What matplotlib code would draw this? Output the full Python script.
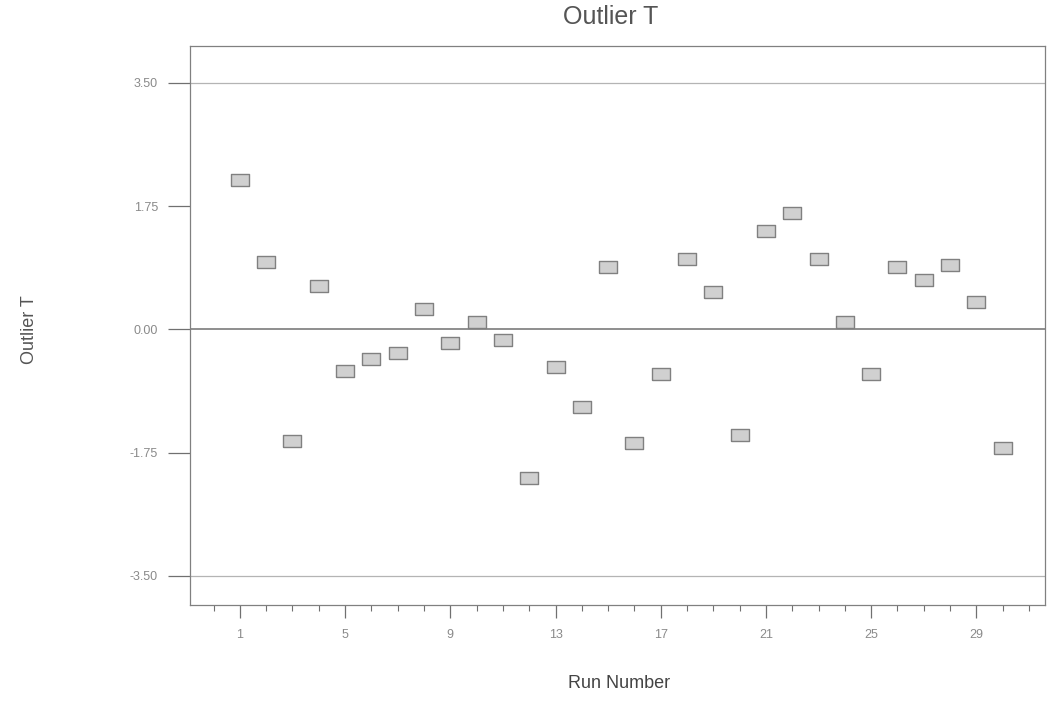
import numpy as np
import matplotlib.pyplot as plt
from matplotlib.ticker import MultipleLocator, FixedLocator

plt.rcParams['font.family'] = ['Liberation Sans', 'DejaVu Sans']

# run numbers and outlier t values
runs = np.arange(1, 31)
outlier_t = [2.12, 0.95, -1.58, 0.61, -0.59, -0.42, -0.34, 0.29, -0.20, 0.11,
             -0.15, -2.11, -0.54, -1.11, 0.89, -1.62, -0.63, 1.00, 0.53, -1.50,
             1.40, 1.65, 1.00, 0.10, -0.63, 0.88, 0.70, 0.92, 0.39, -1.69]
limit = 3.5
ytick_vals = [3.5, 1.75, 0.0, -1.75, -3.5]
xtick_vals = [1, 5, 9, 13, 17, 21, 25, 29]

fig = plt.figure(figsize=(10.49, 7.24), dpi=100)
ax = fig.add_axes([0.181, 0.164, 0.815, 0.772])

# limit lines and the zero line
ax.axhline(limit, color="#b4b4b4", lw=0.9, zorder=1)
ax.axhline(-limit, color="#b4b4b4", lw=0.9, zorder=1)
ax.axhline(0, color="#707070", lw=1.1, zorder=1)

# flat rectangular markers
rect = [(-1, -0.68), (1, -0.68), (1, 0.68), (-1, 0.68), (-1, -0.68)]
ax.scatter(runs, outlier_t, marker=rect, s=150, facecolor="#d0d0d0",
           edgecolor="#808080", linewidths=1.0, zorder=3)

ax.set_xlim(-0.9, 31.6)
ax.set_ylim(-3.92, 4.02)

ax.xaxis.set_major_locator(FixedLocator(xtick_vals))
ax.xaxis.set_minor_locator(MultipleLocator(1))
ax.yaxis.set_major_locator(FixedLocator(ytick_vals))
ax.set_yticklabels(["%.2f" % v for v in ytick_vals])

ax.tick_params(axis="y", which="major", length=16, width=0.9, color="#707070",
               labelsize=9, labelcolor="#8a8a8a", pad=7)
ax.tick_params(axis="x", which="major", length=9, width=0.9, color="#707070",
               labelsize=9, labelcolor="#8a8a8a", pad=8)
ax.tick_params(axis="x", which="minor", length=4, width=0.8, color="#707070")

for sp in ax.spines.values():
    sp.set_color("#808080")
    sp.set_linewidth(0.9)

fig.text(0.582, 0.977, "Outlier T", ha="center", va="center",
         fontsize=18, color="#555555")
fig.text(0.028, 0.545, "Outlier T", ha="center", va="center", rotation=90,
         fontsize=13, color="#555555")
fig.text(0.59, 0.056, "Run Number", ha="center", va="center",
         fontsize=13, color="#444444")

plt.savefig("out.png", dpi=100)
